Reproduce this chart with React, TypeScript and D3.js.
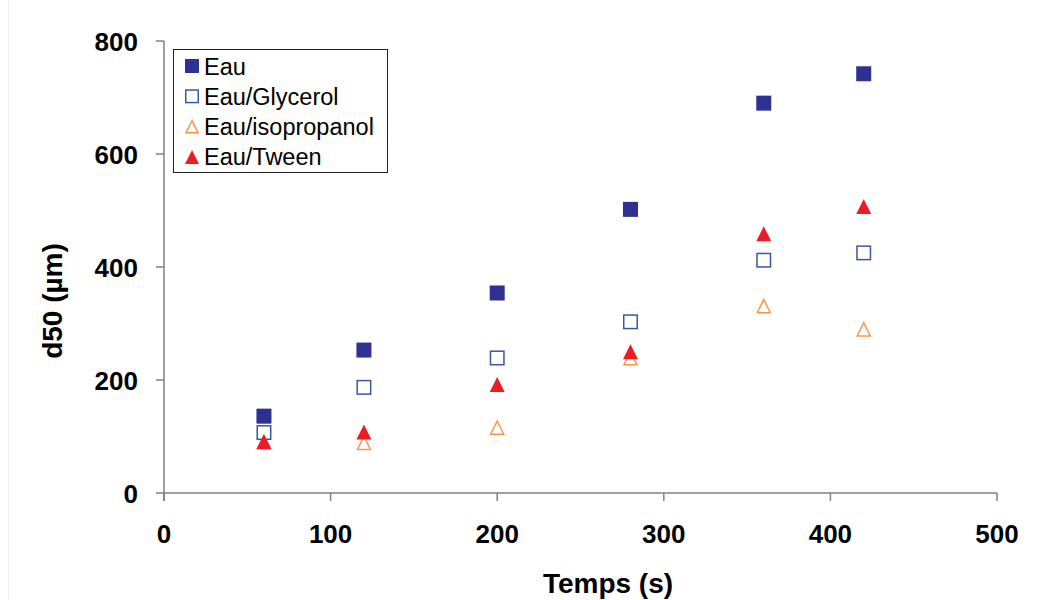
import React from "react";
import * as d3 from "d3";

const times = [60, 120, 200, 280, 360, 420];
const eau = [136, 253, 354, 502, 690, 742];
const eauGlycerol = [107, 187, 239, 303, 412, 425];
const eauIsopropanol = [90, 89, 116, 239, 331, 290];
const eauTween = [91, 108, 192, 250, 459, 507];
const xTicks = [0, 100, 200, 300, 400, 500];
const yTicks = [0, 200, 400, 600, 800];

type Series = { name: string; values: number[]; shape: "square" | "triangle"; filled: boolean; color: string };
const seriesList: Series[] = [
  { name: "Eau", values: eau, shape: "square", filled: true, color: "#2E3192" },
  { name: "Eau/Glycerol", values: eauGlycerol, shape: "square", filled: false, color: "#3A56A8" },
  { name: "Eau/isopropanol", values: eauIsopropanol, shape: "triangle", filled: false, color: "#F7964A" },
  { name: "Eau/Tween", values: eauTween, shape: "triangle", filled: true, color: "#ED1C24" },
];

const W = 1057, H = 600;
const x = d3.scaleLinear().domain([0, 500]).range([164, 997]);
const y = d3.scaleLinear().domain([0, 800]).range([493, 41]);

function Marker({ s, cx, cy, size }: { s: Series; cx: number; cy: number; size: number }) {
  const h = size / 2;
  if (s.shape === "square") {
    return s.filled ? (
      <rect x={cx - h} y={cy - h} width={size} height={size} fill={s.color} />
    ) : (
      <rect x={cx - h + 0.75} y={cy - h + 0.75} width={size - 1.5} height={size - 1.5} fill="white" stroke={s.color} strokeWidth={1.5} />
    );
  }
  const p = d3.path();
  if (s.filled) {
    p.moveTo(cx, cy - h); p.lineTo(cx + h, cy + h); p.lineTo(cx - h, cy + h); p.closePath();
    return <path d={p.toString()} fill={s.color} />;
  }
  p.moveTo(cx, cy - h + 1); p.lineTo(cx + h - 1, cy + h - 0.75); p.lineTo(cx - h + 1, cy + h - 0.75); p.closePath();
  return <path d={p.toString()} fill="white" stroke={s.color} strokeWidth={1.5} />;
}

export default function App() {
  const font = "Liberation Sans, Arial, sans-serif";
  const axisColor = "#808080";
  return (
    <svg width={W} height={H} style={{ position: "absolute", left: 0, top: 0, background: "white" }} fontFamily={font}>
      <rect x={0} y={0} width={W} height={H} fill="white" />
      <line x1={8.5} y1={0} x2={8.5} y2={H} stroke="#eeeeee" />
      {/* axes */}
      <line x1={x(0)} y1={y(800)} x2={x(0)} y2={y(0) + 8} stroke={axisColor} strokeWidth={1.5} />
      <line x1={x(0)} y1={y(0)} x2={x(500)} y2={y(0)} stroke={axisColor} strokeWidth={1.5} />
      {yTicks.map((t) => (
        <g key={"y" + t}>
          <line x1={x(0) - 8} x2={x(0)} y1={y(t)} y2={y(t)} stroke={axisColor} strokeWidth={1.5} />
          <text x={138} y={y(t) + 9.5} textAnchor="end" fontSize={26} fontWeight="bold">{t}</text>
        </g>
      ))}
      {xTicks.map((t) => (
        <g key={"x" + t}>
          <line x1={x(t)} x2={x(t)} y1={y(0)} y2={y(0) + 8} stroke={axisColor} strokeWidth={1.5} />
          <text x={x(t)} y={543} textAnchor="middle" fontSize={26} fontWeight="bold">{t}</text>
        </g>
      ))}
      <text x={608} y={593} textAnchor="middle" fontSize={28} fontWeight="bold">Temps (s)</text>
      <text transform={`translate(62, 301) rotate(-90)`} textAnchor="middle" fontSize={28} fontWeight="bold">d50 (µm)</text>
      {/* points */}
      {seriesList.map((s) => (
        <g key={s.name}>
          {s.values.map((v, i) => (
            <Marker key={i} s={s} cx={x(times[i])} cy={y(v)} size={15} />
          ))}
        </g>
      ))}
      {/* legend */}
      <rect x={173.5} y={49.5} width={214} height={123} fill="white" stroke="#222" strokeWidth={1} />
      {seriesList.map((s, i) => {
        const cy = 66 + i * 30.3;
        return (
          <g key={"l" + s.name}>
            <Marker s={s} cx={192} cy={cy} size={14} />
            <text x={204} y={cy + 8.5} fontSize={23.5}>{s.name}</text>
          </g>
        );
      })}
    </svg>
  );
}
